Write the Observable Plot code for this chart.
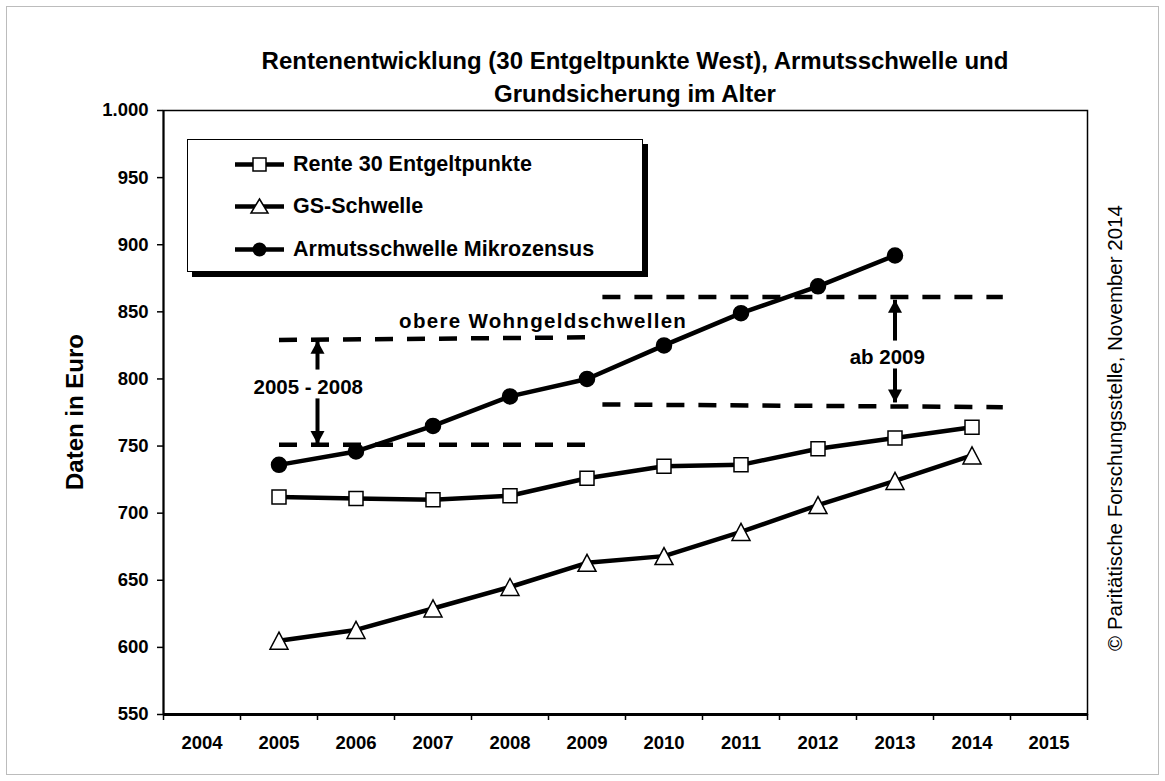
<!DOCTYPE html>
<html><head><meta charset="utf-8">
<script src="https://cdn.jsdelivr.net/npm/d3@7"></script>
<script src="https://cdn.jsdelivr.net/npm/@observablehq/plot@0.6"></script>
<style>
body{margin:0;background:#fff;font-family:"Liberation Sans",Arial,sans-serif;color:#000}
#wrap{position:relative;width:1165px;height:781px;overflow:hidden;background:#fff}
#chart{position:absolute;left:0;top:0}
.border{position:absolute;left:6px;top:6px;width:1151px;height:767px;border:1px solid #bcbcbc;pointer-events:none}
.title{position:absolute;left:235px;width:800px;top:44px;text-align:center;font-weight:bold;font-size:24px;line-height:33px}
.ytitle{position:absolute;left:75px;top:412px;transform:translate(-50%,-50%) rotate(-90deg);font-weight:bold;font-size:24px;white-space:nowrap}
.copy{position:absolute;left:1115px;top:428px;transform:translate(-50%,-50%) rotate(-90deg);font-size:20.5px;white-space:nowrap}
.legend{position:absolute;left:187px;top:139px;width:454px;height:131px;border:1.5px solid #000;background:#fff;box-shadow:5px 5px 0 #000}
.item{position:absolute;left:47px;height:30px;display:flex;align-items:center;font-weight:bold;font-size:21.5px;white-space:nowrap}
.item svg{margin-right:8px}
</style>
</head><body>
<div id="wrap">
  <div id="chart"></div>
  <div class="title">Rentenentwicklung (30 Entgeltpunkte West), Armutsschwelle und<br>Grundsicherung im Alter</div>
  <div class="ytitle">Daten in Euro</div>
  <div class="copy">© Paritätische Forschungsstelle, November 2014</div>
  <div class="legend" id="legend"></div>
  <div class="border"></div>
</div>
<script>
// ---- data ----
const years = [2005, 2006, 2007, 2008, 2009, 2010, 2011, 2012, 2013, 2014];
const rente = [712, 711, 710, 713, 726, 735, 736, 748, 756, 764];
const gsSchwelle = [605, 613, 629, 645, 663, 668, 686, 706, 724, 743];
const armutYears = [2005, 2006, 2007, 2008, 2009, 2010, 2011, 2012, 2013];
const armut = [736, 746, 765, 787, 800, 825, 849, 869, 892];
const axisYears = [2004, 2005, 2006, 2007, 2008, 2009, 2010, 2011, 2012, 2013, 2014, 2015];
const yTicks = [550, 600, 650, 700, 750, 800, 850, 900, 950, 1000];
const seriesNames = ["Rente 30 Entgeltpunkte", "GS-Schwelle", "Armutsschwelle Mikrozensus"];
// Wohngeld thresholds (dashed reference lines)
const wgFrom = [2005, 2005, 2009.2, 2009.2];
const wgTo = [2009, 2009, 2014.4, 2014.4];
const wgStart = [829, 751, 861, 781];
const wgEnd = [831, 751, 861, 779];
// arrows (x, shaft start, tip)
const arrowX = [2005.5, 2005.5, 2013, 2013];
const arrowFrom = [807, 785.5, 828.6, 807.8];
const arrowTip = [828.5, 751.5, 859, 782.5];
// annotation texts
const noteText = ["obere Wohngeldschwellen", "2005 - 2008", "ab 2009"];
const noteX = [2008.43, 2005.38, 2012.9];
const noteY = [842.8, 793.9, 816.2];

// ---- tables ----
const renteData = years.map((x, i) => ({x, y: rente[i]}));
const gsData = years.map((x, i) => ({x, y: gsSchwelle[i]}));
const armutData = armutYears.map((x, i) => ({x, y: armut[i]}));
const wgData = wgFrom.map((x1, i) => ({x1, x2: wgTo[i], y1: wgStart[i], y2: wgEnd[i]}));
const shaftData = arrowX.map((x, i) => ({x, y1: arrowFrom[i], y2: arrowTip[i]}));
const headUpData = shaftData.filter(d => d.y2 > d.y1);
const headDownData = shaftData.filter(d => d.y2 < d.y1);
const notes = noteText.map((t, i) => ({t, x: noteX[i], y: noteY[i]}));
const bounds = axisYears.map(y => y - 0.5).concat([axisYears[axisYears.length - 1] + 0.5]);

const loc = d3.formatLocale({decimal: ",", thousands: ".", grouping: [3], currency: ["", "€"]});
const fmt = loc.format(",");

// symbols
const triBox = {draw(ctx) { ctx.moveTo(0, -8.5); ctx.lineTo(9, 8.5); ctx.lineTo(-9, 8.5); ctx.closePath(); }};
const headUp = {draw(ctx) { ctx.moveTo(0, 0); ctx.lineTo(7, 13); ctx.lineTo(-7, 13); ctx.closePath(); }};
const headDown = {draw(ctx) { ctx.moveTo(0, 0); ctx.lineTo(7, -13); ctx.lineTo(-7, -13); ctx.closePath(); }};

const chart = Plot.plot({
  width: 1165, height: 781,
  marginLeft: 163, marginRight: 78, marginTop: 110, marginBottom: 67,
  x: {domain: [2003.5, 2015.5], label: null},
  y: {domain: [550, 1000], label: null},
  style: {fontFamily: '"Liberation Sans", Arial, sans-serif', fontWeight: "bold", fontSize: "18.5px", color: "#000", background: "transparent"},
  marks: [
    Plot.axisY(yTicks, {tickSize: 6, tickPadding: 9, tickFormat: fmt, strokeWidth: 1.5}),
    Plot.axisX(bounds, {tickSize: 6, tickFormat: () => "", strokeWidth: 1.5}),
    Plot.axisX(axisYears, {tickSize: 0, tickPadding: 21, tickFormat: d => String(d)}),
    Plot.frame({stroke: "#000", strokeWidth: 1.5}),
    Plot.ruleY([550], {stroke: "#000", strokeWidth: 3}),
    Plot.ruleX([2003.5], {stroke: "#000", strokeWidth: 2}),
    Plot.link(wgData, {x1: "x1", x2: "x2", y1: "y1", y2: "y2", stroke: "#000", strokeWidth: 4.5, strokeDasharray: "18,14"}),
    Plot.link(shaftData, {x1: "x", x2: "x", y1: "y1", y2: "y2", stroke: "#000", strokeWidth: 4}),
    Plot.dot(headUpData, {x: "x", y: "y2", symbol: headUp, r: 7, fill: "#000", stroke: null}),
    Plot.dot(headDownData, {x: "x", y: "y2", symbol: headDown, r: 7, fill: "#000", stroke: null}),
    Plot.text(notes, {x: "x", y: "y", text: "t", fontSize: 20.5, fontWeight: "bold", fill: "#000"}),
    Plot.line(renteData, {x: "x", y: "y", stroke: "#000", strokeWidth: 4.5}),
    Plot.line(gsData, {x: "x", y: "y", stroke: "#000", strokeWidth: 4.5}),
    Plot.line(armutData, {x: "x", y: "y", stroke: "#000", strokeWidth: 4.5}),
    Plot.dot(renteData, {x: "x", y: "y", symbol: "square", r: 7.9, fill: "#fff", stroke: "#000", strokeWidth: 1.5}),
    Plot.dot(gsData, {x: "x", y: "y", symbol: triBox, r: 8, fill: "#fff", stroke: "#000", strokeWidth: 1.5}),
    Plot.dot(armutData, {x: "x", y: "y", r: 7.5, fill: "#000", stroke: "#000"})
  ]
});
d3.select(chart).selectAll("text").filter(function() { return this.textContent === noteText[0]; })
  .style("letter-spacing", "1.3px");
document.getElementById("chart").appendChild(chart);

// legend
const sw = [
  '<rect x="18" y="5" width="13" height="13" fill="#fff" stroke="#000" stroke-width="1.5"/>',
  '<path d="M24.5,4 L33,18 L16,18 Z" fill="#fff" stroke="#000" stroke-width="1.5"/>',
  '<circle cx="24.5" cy="11.5" r="7" fill="#000"/>'
];
const tops = [9, 51, 94];
const leg = document.getElementById("legend");
seriesNames.forEach((n, i) => {
  const div = document.createElement("div");
  div.className = "item";
  div.style.top = tops[i] + "px";
  div.innerHTML = '<svg width="50" height="23"><line x1="0" x2="49" y1="11.5" y2="11.5" stroke="#000" stroke-width="4.5"/>' + sw[i] + '</svg><span>' + n + '</span>';
  leg.appendChild(div);
});
</script>
</body></html>
